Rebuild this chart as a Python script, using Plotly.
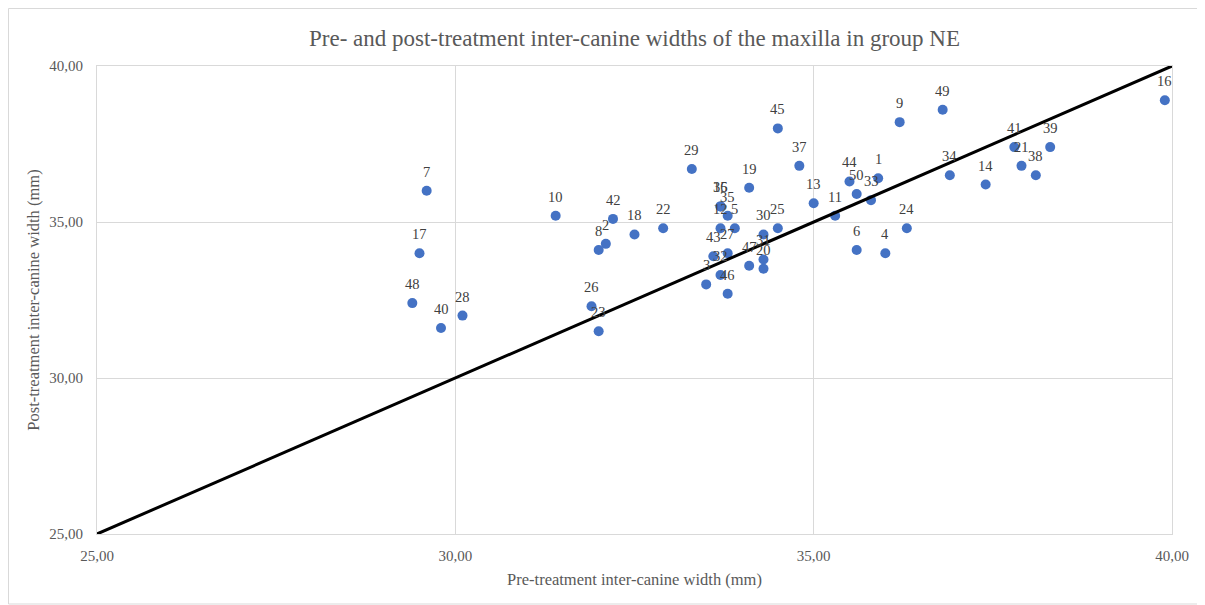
import plotly.graph_objects as go

# Patient numbers
patient = list(range(1, 51))
# Pre-treatment inter-canine width (mm)
pre = [35.9, 32.1, 33.5, 36.0, 33.9, 35.6, 29.6, 32.0, 36.2, 31.4,
       35.3, 33.7, 35.0, 37.4, 33.7, 39.9, 29.5, 32.5, 34.1, 34.3,
       37.9, 32.9, 32.0, 36.3, 34.5, 31.9, 33.8, 30.1, 33.3, 34.3,
       34.3, 33.7, 35.8, 36.9, 33.8, 33.7, 34.8, 38.1, 38.3, 29.8,
       37.8, 32.2, 33.6, 35.5, 34.5, 33.8, 34.1, 29.4, 36.8, 35.6]
# Post-treatment inter-canine width (mm)
post = [36.4, 34.3, 33.0, 34.0, 34.8, 34.1, 36.0, 34.1, 38.2, 35.2,
        35.2, 34.8, 35.6, 36.2, 35.5, 38.9, 34.0, 34.6, 36.1, 33.5,
        36.8, 34.8, 31.5, 34.8, 34.8, 32.3, 34.0, 32.0, 36.7, 34.6,
        33.8, 33.3, 35.7, 36.5, 35.2, 35.5, 36.8, 36.5, 37.4, 31.6,
        37.4, 35.1, 33.9, 36.3, 38.0, 32.7, 33.6, 32.4, 38.6, 35.9]
# Line of equality endpoints
line_x = [25, 40]
line_y = [25, 40]
tick_vals = [25, 30, 35, 40]

SERIF = "Liberation Serif, Times New Roman, serif"
GRID = "#d9d9d9"
TXT = "#595959"

W, H = 1197, 597
L, T = 89, 58
PW, PH = 1075, 468

fig = go.Figure()
fig.add_trace(go.Scatter(
    x=pre, y=post, mode="markers",
    marker=dict(color="#4472C4", size=10, line=dict(width=0)),
    showlegend=False, hoverinfo="skip"))
fig.add_trace(go.Scatter(
    x=line_x, y=line_y, mode="lines",
    line=dict(color="black", width=3),
    showlegend=False, hoverinfo="skip"))

annotations = []
for n, xv, yv in zip(patient, pre, post):
    annotations.append(dict(
        x=xv, y=yv, xref="x", yref="y", text=str(n), showarrow=False,
        yshift=19, yanchor="middle", xanchor="center",
        font=dict(family=SERIF, size=14.5, color="#404040")))

fig.update_layout(
    width=W, height=H,
    margin=dict(l=L, r=W - L - PW, t=T, b=H - T - PH),
    paper_bgcolor="white", plot_bgcolor="white",
    separators=", ",
    title=dict(text="Pre- and post-treatment inter-canine widths of the maxilla in group NE",
               x=0.5, xanchor="center", xref="paper", y=1 - 30 / H, yanchor="middle",
               font=dict(family=SERIF, size=23, color=TXT)),
    annotations=annotations,
    shapes=[dict(type="rect", xref="paper", yref="paper",
                 x0=(0.5 - L) / PW, x1=(1192 - L) / PW,
                 y0=(T + PH - 596) / PH, y1=(T + PH - 0.5) / PH,
                 line=dict(color=GRID, width=1), layer="below")],
)
fig.update_xaxes(
    range=[25, 40], tickvals=tick_vals, tickformat=".2f",
    showgrid=True, gridcolor=GRID, gridwidth=1, zeroline=False,
    showline=True, mirror=True, linecolor=GRID, linewidth=1,
    ticks="outside", ticklen=8, tickcolor="rgba(0,0,0,0)",
    tickfont=dict(family=SERIF, size=15, color=TXT),
    title=dict(text="Pre-treatment inter-canine width (mm)", standoff=10,
               font=dict(family=SERIF, size=16.5, color=TXT)))
fig.update_yaxes(
    range=[25, 40], tickvals=tick_vals, tickformat=".2f",
    showgrid=True, gridcolor=GRID, gridwidth=1, zeroline=False,
    showline=True, mirror=True, linecolor=GRID, linewidth=1,
    ticks="outside", ticklen=10, tickcolor="rgba(0,0,0,0)",
    tickfont=dict(family=SERIF, size=15, color=TXT),
    title=dict(text="Post-treatment inter-canine width (mm)", standoff=5,
               font=dict(family=SERIF, size=16.5, color=TXT)))

fig.write_html("out.html")
